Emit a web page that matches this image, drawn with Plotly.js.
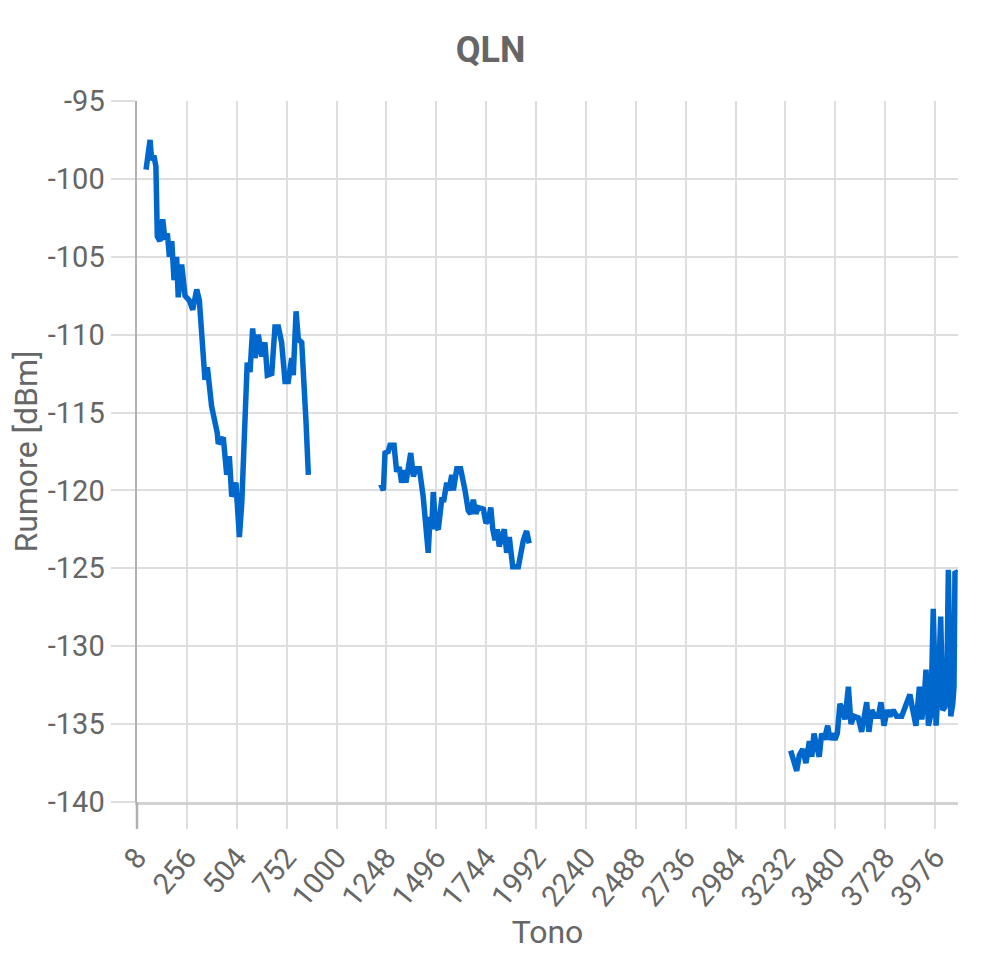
<!DOCTYPE html>
<html>
<head>
<meta charset="utf-8">
<script src="https://cdn.plot.ly/plotly-3.0.1.min.js"></script>
<style>
html,body{margin:0;padding:0;background:#fff;}
#chart{width:981px;height:962px;}
</style>
</head>
<body>
<div id="chart"></div>
<script>
const seg1Tones = [53,73,81,92,102,109,122,136,147,159,169,181,192,205,213,230,247,268,285,305,318,346,358,367,379,407,412,437,454,467,479,500,517,529,545,556,570,583,595,611,628,644,656,678,694,711,727,744,760,777,785,799,810,827,848,860];
const seg1Qln = [-99.4,-97.5,-98.8,-98.5,-99.2,-103.7,-104.0,-102.6,-103.9,-103.5,-105.0,-104.0,-106.5,-105.0,-107.6,-105.5,-107.5,-107.8,-108.4,-107.1,-107.8,-112.9,-112.1,-113.1,-114.6,-116.3,-117.0,-116.6,-119.0,-117.8,-120.4,-119.5,-123.0,-120.8,-115.5,-111.8,-112.4,-109.6,-111.5,-110.0,-111.4,-110.5,-112.6,-112.5,-109.5,-109.5,-110.5,-113.0,-113.0,-111.5,-112.6,-108.5,-110.3,-110.5,-115.5,-119.0];

const seg2Tones = [1220,1233,1241,1257,1266,1286,1299,1312,1324,1335,1345,1357,1369,1382,1395,1412,1431,1456,1465,1473,1481,1493,1506,1523,1534,1548,1559,1573,1581,1598,1617,1639,1655,1667,1680,1693,1705,1730,1743,1755,1767,1777,1788,1799,1809,1821,1834,1846,1859,1876,1904,1929,1945,1958];
const seg2Qln = [-119.6,-120.0,-117.6,-117.5,-117.1,-117.1,-118.8,-118.5,-119.5,-118.7,-119.5,-118.7,-117.6,-119.1,-118.6,-118.6,-120.4,-124.0,-121.7,-122.5,-120.1,-122.3,-122.5,-120.6,-120.6,-119.5,-120.0,-119.0,-120.0,-118.6,-118.6,-120.0,-121.3,-121.5,-120.6,-121.5,-121.1,-121.2,-122.1,-121.9,-121.1,-122.5,-123.2,-122.5,-123.6,-123.0,-122.5,-124.0,-123.0,-124.9,-124.9,-123.2,-122.6,-123.4];

const seg3Tones = [3258,3275,3288,3301,3318,3334,3351,3363,3374,3387,3400,3412,3425,3442,3454,3467,3478,3490,3503,3517,3528,3545,3558,3573,3594,3611,3623,3636,3647,3661,3677,3694,3707,3722,3738,3752,3768,3785,3810,3835,3851,3865,3881,3898,3910,3921,3931,3943,3955,3967,3981,3992,4004,4014,4025,4034,4042,4054,4064,4070,4075,4084];
const seg3Qln = [-136.7,-137.3,-138.0,-137.0,-136.6,-137.5,-136.1,-137.1,-135.6,-136.4,-137.1,-135.6,-136.0,-135.1,-136.0,-135.6,-136.0,-135.6,-133.7,-134.1,-134.7,-132.6,-135.0,-134.5,-134.6,-135.5,-134.5,-133.6,-135.5,-134.1,-134.5,-134.5,-133.6,-135.1,-134.1,-134.5,-134.1,-134.5,-134.5,-133.7,-133.1,-134.1,-135.1,-132.6,-134.7,-133.5,-131.5,-135.1,-134.4,-127.6,-135.1,-132.6,-128.1,-134.1,-133.9,-132.6,-125.1,-134.5,-133.7,-132.6,-125.2,-125.3];

const xTickVals = [8,256,504,752,1000,1248,1496,1744,1992,2240,2488,2736,2984,3232,3480,3728,3976];
const yTickVals = [-95,-100,-105,-110,-115,-120,-125,-130,-135,-140];

// join the bands with gaps
const xs = [].concat(seg1Tones, [1040], seg2Tones, [2600], seg3Tones);
const ys = [].concat(seg1Qln, [null], seg2Qln, [null], seg3Qln);

const grey = '#666666';
const grid = '#dedede';

const data = [{
  x: xs, y: ys, type: 'scatter', mode: 'lines',
  connectgaps: false,
  line: {color: '#0068cc', width: 5.5, shape: 'linear'},
  hoverinfo: 'x+y'
}];

const layout = {
  width: 981, height: 962,
  margin: {l: 137, r: 23, t: 101, b: 160},
  paper_bgcolor: '#ffffff', plot_bgcolor: '#ffffff',
  font: {family: 'Roboto, sans-serif', color: grey, size: 28},
  showlegend: false,
  title: {text: '<b>QLN</b>', x: 0.5, xanchor: 'center', y: 1 - 49/962, yanchor: 'middle', yref: 'container',
          font: {family: 'Roboto, sans-serif', size: 36, color: grey}},
  xaxis: {
    range: [8, 4090], tickmode: 'array', tickvals: xTickVals, ticktext: xTickVals.map(String),
    tickangle: -50, ticks: 'outside', ticklen: 24, tickwidth: 2, tickcolor: grid,
    showgrid: true, gridcolor: grid, gridwidth: 2, zeroline: false,
    showline: true, linecolor: '#d2d2d2', linewidth: 3,
    tickfont: {size: 29, color: grey},
    title: {text: 'Tono', font: {size: 32, color: grey}, standoff: 0},
    automargin: false
  },
  yaxis: {
    range: [-140, -95], tickmode: 'array', tickvals: yTickVals, ticktext: yTickVals.map(String),
    ticks: 'outside', ticklen: 24, tickwidth: 2, tickcolor: grid,
    showgrid: true, gridcolor: grid, gridwidth: 2, zeroline: false,
    showline: true, linecolor: '#b0b0b0', linewidth: 2.5,
    tickfont: {size: 29, color: grey},
    title: {text: 'Rumore [dBm]', font: {size: 32, color: grey}, standoff: 1},
    automargin: false
  },
  shapes: [{
    type: 'line', xref: 'paper', yref: 'paper', x0: 0, x1: 0,
    ysizemode: 'pixel', yanchor: 0, y0: -27, y1: 0,
    line: {color: '#b0b0b0', width: 2.5}
  }]
};

Plotly.newPlot('chart', data, layout, {displayModeBar: false, staticPlot: true});
</script>
</body>
</html>
